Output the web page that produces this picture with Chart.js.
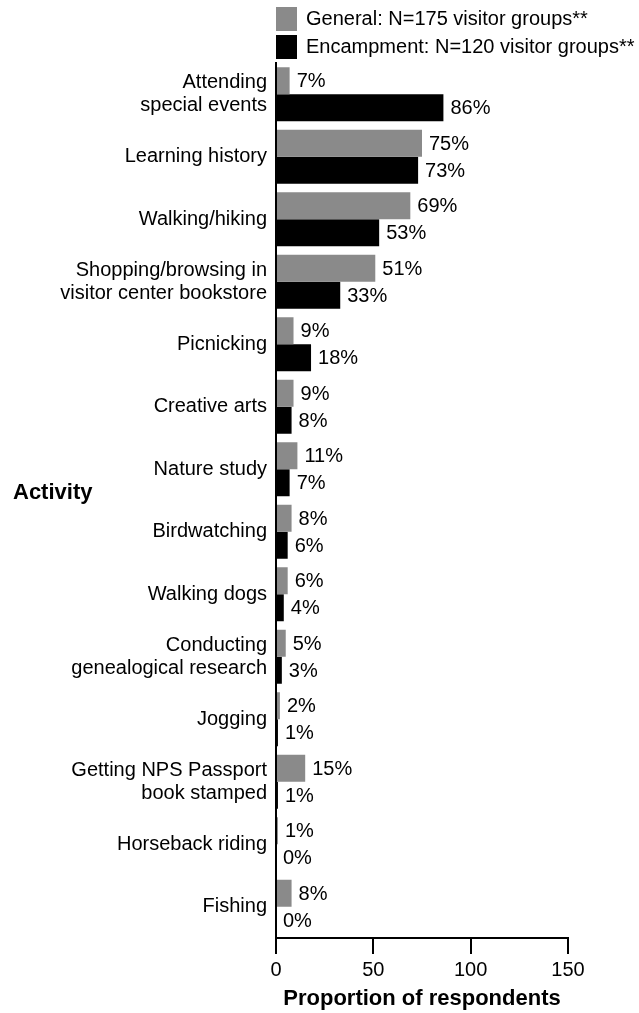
<!DOCTYPE html>
<html>
<head>
<meta charset="utf-8">
<script src="https://cdn.jsdelivr.net/npm/chart.js@4"></script>
<style>
  html, body { margin: 0; padding: 0; background: #ffffff; }
  #wrap { width: 639px; height: 1013px; }
</style>
</head>
<body>
<div id="wrap"><canvas id="c" width="639" height="1013"></canvas></div>
<script>
// Activities (multi-line labels where the text wraps)
const activities = [
  ["Attending", "special events"],
  "Learning history",
  "Walking/hiking",
  ["Shopping/browsing in", "visitor center bookstore"],
  "Picnicking",
  "Creative arts",
  "Nature study",
  "Birdwatching",
  "Walking dogs",
  ["Conducting", "genealogical research"],
  "Jogging",
  ["Getting NPS Passport", "book stamped"],
  "Horseback riding",
  "Fishing"
];

// Percent of visitor groups
const generalValues    = [7, 75, 69, 51, 9, 9, 11, 8, 6, 5, 2, 15, 1, 8];
const encampmentValues = [86, 73, 53, 33, 18, 8, 7, 6, 4, 3, 1, 1, 0, 0];

const seriesNames = [
  "General: N=175 visitor groups**",
  "Encampment: N=120 visitor groups**"
];
const xTicks = [0, 50, 100, 150];
const xAxisTitle = "Proportion of respondents";
const yAxisTitle = "Activity";

const FONT = "'Liberation Sans', Arial, Helvetica, sans-serif";
const GRAY = "#8a8a8a";
const BLACK = "#000000";

// Percent labels to the right of each bar
const valueLabels = {
  id: "valueLabels",
  afterDatasetsDraw(chart) {
    const ctx = chart.ctx;
    ctx.save();
    ctx.font = "20px " + FONT;
    ctx.fillStyle = "#000";
    ctx.textAlign = "left";
    ctx.textBaseline = "middle";
    chart.data.datasets.forEach((ds, di) => {
      const meta = chart.getDatasetMeta(di);
      meta.data.forEach((bar, i) => {
        ctx.fillText(ds.data[i] + "%", bar.x + 7, bar.y + 1);
      });
    });
    ctx.restore();
  }
};

// Legend boxes above the plot and the horizontal "Activity" title
const extras = {
  id: "extras",
  afterDraw(chart) {
    const ctx = chart.ctx;
    const left = chart.chartArea.left;
    ctx.save();
    const rows = [
      { color: GRAY, top: 7, text: seriesNames[0] },
      { color: BLACK, top: 35, text: seriesNames[1] }
    ];
    ctx.font = "20px " + FONT;
    ctx.textAlign = "left";
    ctx.textBaseline = "middle";
    rows.forEach(r => {
      ctx.fillStyle = r.color;
      ctx.fillRect(left, r.top, 21, 24);
      ctx.fillStyle = "#000";
      ctx.fillText(r.text, left + 30, r.top + 12.5);
    });
    ctx.font = "bold 22px " + FONT;
    ctx.fillText(yAxisTitle, 13, 493);
    ctx.restore();
  }
};

new Chart(document.getElementById("c"), {
  type: "bar",
  data: {
    labels: activities,
    datasets: [
      { label: seriesNames[0], data: generalValues, backgroundColor: GRAY,
        categoryPercentage: 0.864, barPercentage: 1.0 },
      { label: seriesNames[1], data: encampmentValues, backgroundColor: BLACK,
        categoryPercentage: 0.864, barPercentage: 1.0 }
    ]
  },
  options: {
    indexAxis: "y",
    responsive: false,
    devicePixelRatio: 1,
    animation: false,
    layout: { padding: { top: 63, right: 71, left: 0, bottom: 0 } },
    plugins: {
      legend: { display: false },
      tooltip: { enabled: false }
    },
    scales: {
      x: {
        min: 0,
        max: 150,
        afterBuildTicks(scale) { scale.ticks = xTicks.map(v => ({ value: v })); },
        afterFit(scale) { scale.height = 75; },
        grid: {
          display: true,
          drawOnChartArea: false,
          drawTicks: true,
          tickLength: 16,
          color: "#000",
          lineWidth: 2
        },
        border: { display: true, color: "#000", width: 2 },
        ticks: {
          padding: 4,
          color: "#000",
          font: { family: FONT, size: 20 },
          maxRotation: 0
        },
        title: {
          display: true,
          text: xAxisTitle,
          color: "#000",
          font: { family: FONT, size: 22, weight: "bold" },
          padding: { top: 0, bottom: 1 }
        }
      },
      y: {
        afterFit(scale) { scale.width = 276; },
        grid: { display: false, drawTicks: false },
        border: { display: true, color: "#000", width: 2 },
        ticks: {
          padding: 9,
          color: "#000",
          font: { family: FONT, size: 20, lineHeight: 1.15 },
          autoSkip: false
        }
      }
    }
  },
  plugins: [valueLabels, extras]
});
</script>
</body>
</html>
